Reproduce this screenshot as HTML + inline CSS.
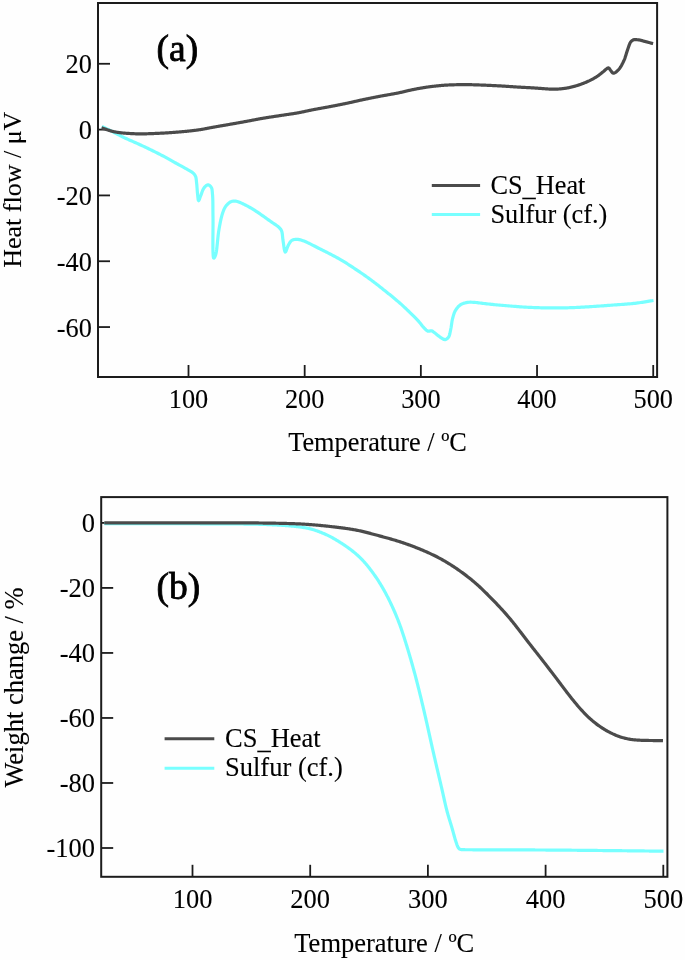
<!DOCTYPE html>
<html><head><meta charset="utf-8"><style>
html,body{margin:0;padding:0;background:#fefefe;}
svg{display:block;will-change:transform;}
text{font-family:"Liberation Serif", serif;fill:#000;stroke:#000;stroke-width:0.1px;}
</style></head><body>
<svg width="685" height="960" viewBox="0 0 685 960">
<rect width="685" height="960" fill="#fefefe"/>
<rect x="98" y="3" width="559.10" height="374.00" fill="none" stroke="#1c1c1c" stroke-width="2"/>
<line x1="188.50" y1="377" x2="188.50" y2="365.00" stroke="#1c1c1c" stroke-width="1.8"/>
<text x="188.50" y="407.7" text-anchor="middle" font-size="26.3">100</text>
<line x1="304.68" y1="377" x2="304.68" y2="365.00" stroke="#1c1c1c" stroke-width="1.8"/>
<text x="304.68" y="407.7" text-anchor="middle" font-size="26.3">200</text>
<line x1="420.86" y1="377" x2="420.86" y2="365.00" stroke="#1c1c1c" stroke-width="1.8"/>
<text x="420.86" y="407.7" text-anchor="middle" font-size="26.3">300</text>
<line x1="537.04" y1="377" x2="537.04" y2="365.00" stroke="#1c1c1c" stroke-width="1.8"/>
<text x="537.04" y="407.7" text-anchor="middle" font-size="26.3">400</text>
<line x1="653.22" y1="377" x2="653.22" y2="365.00" stroke="#1c1c1c" stroke-width="1.8"/>
<text x="653.22" y="407.7" text-anchor="middle" font-size="26.3">500</text>
<line x1="98" y1="63.78" x2="110.00" y2="63.78" stroke="#1c1c1c" stroke-width="1.8"/>
<text x="91.9" y="73.28" text-anchor="end" font-size="26.3">20</text>
<line x1="98" y1="129.60" x2="110.00" y2="129.60" stroke="#1c1c1c" stroke-width="1.8"/>
<text x="91.9" y="139.10" text-anchor="end" font-size="26.3">0</text>
<line x1="98" y1="195.42" x2="110.00" y2="195.42" stroke="#1c1c1c" stroke-width="1.8"/>
<text x="91.9" y="204.92" text-anchor="end" font-size="26.3">-20</text>
<line x1="98" y1="261.24" x2="110.00" y2="261.24" stroke="#1c1c1c" stroke-width="1.8"/>
<text x="91.9" y="270.74" text-anchor="end" font-size="26.3">-40</text>
<line x1="98" y1="327.06" x2="110.00" y2="327.06" stroke="#1c1c1c" stroke-width="1.8"/>
<text x="91.9" y="336.56" text-anchor="end" font-size="26.3">-60</text>
<text x="377.55" y="451.4" text-anchor="middle" font-size="26.3">Temperature / ºC</text>
<text transform="translate(21.2,189.7) rotate(-90)" x="0" y="0" text-anchor="middle" font-size="26.0">Heat flow / μV</text>
<text x="156.6" y="61.3" font-size="37.5" style="stroke-width:0.8px">(a)</text>
<line x1="431.8" y1="185.5" x2="480.1" y2="185.5" stroke="#4b4b4b" stroke-width="3"/>
<line x1="431.8" y1="214.6" x2="480.1" y2="214.6" stroke="#78ffff" stroke-width="3"/>
<text x="490.4" y="193.6" font-size="26.3">CS<tspan dy="2.2">_</tspan><tspan dy="-2.2">Heat</tspan></text>
<text x="490.4" y="222.6" font-size="26.3">Sulfur (cf.)</text>
<path d="M101.90,126.50 L102.92,127.00 L103.94,127.50 L104.96,128.00 L106.00,128.50 L107.08,129.00 L108.17,129.50 L109.29,130.02 L110.50,130.60 L111.63,131.18 L112.82,131.82 L114.06,132.50 L115.35,133.20 L116.66,133.91 L118.00,134.60 L119.17,135.19 L120.37,135.78 L121.59,136.38 L122.84,136.98 L124.11,137.58 L125.39,138.19 L126.69,138.79 L128.00,139.40 L129.27,139.97 L130.53,140.54 L131.80,141.09 L133.09,141.65 L134.40,142.21 L135.74,142.79 L137.11,143.39 L138.53,144.03 L140.00,144.70 L141.19,145.25 L142.42,145.83 L143.69,146.42 L144.98,147.03 L146.31,147.66 L147.66,148.30 L149.02,148.95 L150.40,149.61 L151.78,150.29 L153.17,150.96 L154.56,151.65 L155.94,152.34 L157.31,153.02 L158.66,153.71 L160.00,154.40 L161.27,155.06 L162.58,155.75 L163.90,156.46 L165.24,157.19 L166.59,157.92 L167.94,158.67 L169.28,159.41 L170.61,160.15 L171.92,160.88 L173.21,161.60 L174.46,162.31 L175.67,162.99 L176.84,163.64 L177.96,164.26 L179.01,164.85 L180.00,165.40 L181.49,166.22 L182.86,166.97 L184.13,167.66 L185.32,168.32 L186.47,168.96 L187.60,169.60 L188.97,170.35 L190.28,171.06 L191.51,171.78 L192.60,172.60 L193.47,173.40 L194.25,174.24 L194.94,175.16 L195.50,176.20 L195.89,177.35 L196.14,178.61 L196.31,179.96 L196.44,181.40 L196.60,182.90 L196.75,184.21 L196.88,185.64 L196.99,187.14 L197.11,188.67 L197.22,190.20 L197.33,191.70 L197.46,193.11 L197.60,194.40 L197.77,195.98 L197.92,197.64 L198.10,199.15 L198.31,200.25 L198.60,200.70 L199.01,200.24 L199.50,199.04 L200.03,197.50 L200.60,196.00 L201.04,194.88 L201.49,193.62 L201.96,192.29 L202.46,190.96 L202.99,189.69 L203.57,188.55 L204.20,187.60 L205.11,186.57 L206.11,185.66 L207.13,185.03 L208.10,184.80 L209.27,185.21 L210.39,186.17 L211.30,187.40 L211.77,188.47 L212.06,189.71 L212.23,191.11 L212.36,192.67 L212.50,194.40 L212.59,195.45 L212.66,196.58 L212.72,197.78 L212.77,199.04 L212.81,200.35 L212.84,201.73 L212.86,203.15 L212.88,204.61 L212.89,206.11 L212.90,207.65 L212.91,209.21 L212.92,210.80 L212.93,212.41 L212.95,214.03 L212.97,215.66 L213.00,217.30 L213.02,218.61 L213.03,220.05 L213.04,221.59 L213.04,223.22 L213.03,224.93 L213.02,226.72 L213.00,228.56 L212.98,230.44 L212.97,232.36 L212.95,234.29 L212.93,236.23 L212.91,238.17 L212.90,240.09 L212.89,241.98 L212.89,243.82 L212.89,245.61 L212.90,247.33 L212.92,248.97 L212.94,250.52 L212.98,251.96 L213.03,253.28 L213.10,254.47 L213.17,255.52 L213.26,256.42 L213.37,257.15 L213.50,257.70 L213.64,258.05 L213.80,258.20 L214.36,257.79 L215.00,256.59 L215.60,255.00 L215.85,254.15 L216.08,253.13 L216.29,251.96 L216.49,250.65 L216.69,249.24 L216.87,247.73 L217.05,246.14 L217.22,244.50 L217.39,242.81 L217.56,241.10 L217.73,239.38 L217.91,237.68 L218.09,236.01 L218.28,234.39 L218.47,232.83 L218.68,231.37 L218.90,230.00 L219.16,228.50 L219.42,227.02 L219.69,225.54 L219.96,224.09 L220.23,222.67 L220.51,221.27 L220.80,219.91 L221.09,218.59 L221.40,217.31 L221.72,216.09 L222.05,214.91 L222.40,213.80 L222.89,212.31 L223.39,210.93 L223.90,209.63 L224.46,208.41 L225.08,207.27 L225.80,206.20 L226.70,205.09 L227.70,204.03 L228.77,203.09 L229.88,202.29 L231.00,201.70 L232.21,201.29 L233.46,201.09 L234.75,201.07 L236.10,201.20 L237.36,201.48 L238.70,201.93 L240.09,202.51 L241.48,203.15 L242.83,203.80 L244.10,204.40 L245.34,204.99 L246.51,205.58 L247.65,206.18 L248.80,206.82 L250.00,207.50 L251.19,208.20 L252.39,208.92 L253.61,209.68 L254.86,210.47 L256.15,211.31 L257.50,212.20 L258.58,212.92 L259.70,213.69 L260.86,214.49 L262.05,215.32 L263.25,216.16 L264.47,217.02 L265.68,217.89 L266.88,218.74 L268.05,219.58 L269.20,220.40 L270.41,221.25 L271.67,222.11 L272.95,222.97 L274.22,223.83 L275.46,224.68 L276.62,225.51 L277.69,226.31 L278.62,227.08 L279.40,227.80 L280.35,228.80 L281.03,229.72 L281.60,230.90 L281.95,232.02 L282.20,233.34 L282.40,234.81 L282.55,236.38 L282.70,237.98 L282.88,239.57 L283.10,241.10 L283.33,242.59 L283.57,244.30 L283.81,246.09 L284.06,247.85 L284.33,249.45 L284.62,250.75 L284.94,251.65 L285.30,252.00 L285.80,251.55 L286.34,250.32 L286.92,248.67 L287.54,246.95 L288.20,245.50 L288.83,244.35 L289.48,243.20 L290.17,242.10 L290.93,241.14 L291.80,240.40 L292.94,239.83 L294.21,239.50 L295.55,239.34 L296.90,239.30 L298.04,239.37 L299.17,239.55 L300.34,239.83 L301.60,240.22 L303.00,240.70 L304.04,241.09 L305.16,241.55 L306.34,242.07 L307.59,242.64 L308.89,243.26 L310.23,243.92 L311.60,244.61 L313.00,245.32 L314.41,246.04 L315.83,246.77 L317.23,247.50 L318.63,248.21 L320.00,248.90 L321.22,249.51 L322.45,250.13 L323.71,250.75 L324.97,251.39 L326.25,252.03 L327.54,252.68 L328.82,253.33 L330.11,253.99 L331.40,254.65 L332.68,255.31 L333.94,255.98 L335.20,256.64 L336.43,257.31 L337.65,257.97 L338.84,258.64 L340.00,259.30 L341.34,260.08 L342.65,260.86 L343.94,261.64 L345.20,262.42 L346.44,263.20 L347.67,263.99 L348.90,264.78 L350.11,265.57 L351.32,266.37 L352.54,267.17 L353.77,267.98 L355.00,268.80 L356.16,269.57 L357.32,270.35 L358.48,271.13 L359.64,271.91 L360.80,272.70 L361.95,273.49 L363.11,274.29 L364.26,275.09 L365.41,275.90 L366.56,276.72 L367.71,277.54 L368.86,278.37 L370.00,279.20 L371.16,280.06 L372.33,280.92 L373.49,281.79 L374.64,282.67 L375.80,283.56 L376.95,284.45 L378.11,285.35 L379.26,286.25 L380.41,287.15 L381.56,288.06 L382.71,288.97 L383.85,289.88 L385.00,290.80 L386.17,291.74 L387.35,292.68 L388.54,293.64 L389.74,294.61 L390.94,295.58 L392.13,296.55 L393.31,297.53 L394.48,298.50 L395.64,299.46 L396.77,300.41 L397.88,301.36 L398.96,302.29 L400.00,303.20 L401.10,304.18 L402.17,305.15 L403.21,306.11 L404.23,307.06 L405.23,308.00 L406.20,308.93 L407.17,309.85 L408.12,310.77 L409.06,311.69 L410.00,312.60 L411.06,313.62 L412.11,314.64 L413.14,315.64 L414.16,316.64 L415.15,317.63 L416.13,318.62 L417.08,319.61 L418.00,320.60 L418.93,321.66 L419.83,322.75 L420.70,323.85 L421.55,324.93 L422.38,325.97 L423.19,326.93 L424.00,327.80 L425.02,328.87 L426.01,329.87 L426.99,330.69 L428.00,331.20 L429.16,331.19 L430.35,330.86 L431.50,330.80 L432.66,331.32 L433.79,332.16 L435.00,333.10 L436.10,333.93 L437.29,334.89 L438.53,335.88 L439.75,336.81 L440.90,337.60 L441.97,338.30 L443.01,338.97 L444.02,339.45 L445.00,339.60 L446.26,339.22 L447.46,338.37 L448.50,337.20 L449.07,336.17 L449.52,334.93 L449.89,333.52 L450.20,332.02 L450.49,330.50 L450.80,329.00 L451.05,327.74 L451.27,326.44 L451.47,325.10 L451.66,323.74 L451.85,322.38 L452.06,321.05 L452.31,319.75 L452.60,318.50 L452.98,317.05 L453.38,315.63 L453.81,314.24 L454.29,312.90 L454.85,311.62 L455.50,310.40 L456.21,309.28 L456.98,308.20 L457.82,307.16 L458.73,306.20 L459.69,305.34 L460.70,304.60 L461.97,303.91 L463.35,303.37 L464.80,302.96 L466.26,302.64 L467.70,302.40 L469.11,302.25 L470.54,302.21 L471.96,302.25 L473.36,302.32 L474.70,302.40 L476.04,302.51 L477.29,302.65 L478.58,302.82 L480.00,303.00 L481.23,303.15 L482.53,303.31 L483.88,303.48 L485.31,303.66 L486.80,303.84 L488.36,304.02 L490.00,304.20 L491.22,304.33 L492.50,304.45 L493.83,304.58 L495.21,304.72 L496.63,304.85 L498.09,304.98 L499.57,305.12 L501.07,305.25 L502.57,305.38 L504.08,305.51 L505.59,305.64 L507.08,305.76 L508.55,305.88 L510.00,306.00 L511.43,306.11 L512.86,306.23 L514.28,306.34 L515.71,306.46 L517.14,306.57 L518.57,306.68 L520.00,306.78 L521.43,306.88 L522.85,306.98 L524.28,307.08 L525.71,307.17 L527.14,307.25 L528.57,307.33 L530.00,307.40 L531.43,307.47 L532.86,307.52 L534.28,307.58 L535.71,307.63 L537.14,307.67 L538.57,307.71 L540.00,307.75 L541.43,307.78 L542.86,307.81 L544.28,307.83 L545.71,307.86 L547.14,307.87 L548.57,307.89 L550.00,307.90 L551.43,307.91 L552.86,307.92 L554.29,307.92 L555.71,307.92 L557.14,307.91 L558.57,307.91 L560.00,307.89 L561.43,307.88 L562.86,307.86 L564.29,307.84 L565.72,307.81 L567.14,307.78 L568.57,307.74 L570.00,307.70 L571.42,307.65 L572.84,307.60 L574.25,307.55 L575.65,307.49 L577.05,307.43 L578.46,307.36 L579.86,307.29 L581.27,307.21 L582.69,307.13 L584.12,307.05 L585.57,306.97 L587.03,306.88 L588.50,306.79 L590.00,306.70 L591.40,306.61 L592.83,306.52 L594.28,306.43 L595.75,306.33 L597.24,306.22 L598.73,306.12 L600.24,306.01 L601.75,305.90 L603.26,305.79 L604.77,305.68 L606.27,305.56 L607.77,305.45 L609.25,305.34 L610.72,305.23 L612.17,305.12 L613.60,305.01 L615.00,304.90 L616.50,304.79 L617.98,304.68 L619.45,304.58 L620.90,304.48 L622.34,304.38 L623.77,304.28 L625.19,304.18 L626.61,304.08 L628.01,303.97 L629.41,303.85 L630.81,303.73 L632.21,303.60 L633.60,303.45 L635.00,303.30 L636.45,303.13 L637.89,302.94 L639.32,302.74 L640.75,302.53 L642.17,302.31 L643.59,302.09 L645.01,301.86 L646.42,301.63 L647.83,301.40 L649.25,301.17 L650.66,300.94 L652.08,300.72 L653.50,300.50" fill="none" stroke="#78ffff" stroke-width="3.2" stroke-linejoin="round" stroke-linecap="butt"/>
<path d="M101.60,127.91 L102.10,128.04 L102.60,128.17 L103.10,128.33 L103.60,128.49 L104.10,128.66 L104.60,128.83 L105.10,129.01 L105.60,129.19 L106.10,129.37 L106.60,129.55 L107.10,129.73 L107.60,129.90 L108.10,130.07 L108.60,130.24 L109.10,130.40 L109.60,130.55 L110.10,130.70 L110.60,130.84 L111.10,130.98 L111.60,131.12 L112.10,131.24 L112.60,131.37 L113.10,131.49 L113.60,131.60 L114.10,131.71 L114.60,131.82 L115.10,131.92 L115.60,132.02 L116.10,132.11 L116.60,132.20 L117.10,132.28 L117.60,132.36 L118.10,132.44 L118.60,132.51 L119.10,132.58 L119.60,132.64 L120.10,132.70 L120.60,132.76 L121.10,132.82 L121.60,132.87 L122.10,132.92 L122.60,132.97 L123.10,133.02 L123.60,133.06 L124.10,133.10 L124.60,133.14 L125.10,133.18 L125.60,133.22 L126.10,133.26 L126.60,133.29 L127.10,133.33 L127.60,133.36 L128.10,133.39 L128.60,133.42 L129.10,133.46 L129.60,133.49 L130.10,133.51 L130.60,133.54 L131.10,133.57 L131.60,133.60 L132.10,133.62 L132.60,133.65 L133.10,133.67 L133.60,133.70 L134.10,133.72 L134.60,133.74 L135.10,133.76 L135.60,133.78 L136.10,133.79 L136.60,133.81 L137.10,133.82 L137.60,133.84 L138.10,133.85 L138.60,133.85 L139.10,133.86 L139.60,133.86 L140.10,133.87 L140.60,133.87 L141.10,133.87 L141.60,133.87 L142.10,133.86 L142.60,133.86 L143.10,133.85 L143.60,133.85 L144.10,133.84 L144.60,133.83 L145.10,133.82 L145.60,133.81 L146.10,133.80 L146.60,133.78 L147.10,133.77 L147.60,133.76 L148.10,133.74 L148.60,133.72 L149.10,133.71 L149.60,133.69 L150.10,133.67 L150.60,133.65 L151.10,133.63 L151.60,133.61 L152.10,133.59 L152.60,133.57 L153.10,133.55 L153.60,133.53 L154.10,133.51 L154.60,133.49 L155.10,133.47 L155.60,133.45 L156.10,133.42 L156.60,133.40 L157.10,133.38 L157.60,133.36 L158.10,133.33 L158.60,133.31 L159.10,133.29 L159.60,133.26 L160.10,133.24 L160.60,133.22 L161.10,133.19 L161.60,133.17 L162.10,133.14 L162.60,133.11 L163.10,133.09 L163.60,133.06 L164.10,133.03 L164.60,133.01 L165.10,132.98 L165.60,132.95 L166.10,132.92 L166.60,132.89 L167.10,132.86 L167.60,132.82 L168.10,132.79 L168.60,132.76 L169.10,132.73 L169.60,132.69 L170.10,132.66 L170.60,132.62 L171.10,132.59 L171.60,132.55 L172.10,132.52 L172.60,132.48 L173.10,132.44 L173.60,132.41 L174.10,132.37 L174.60,132.33 L175.10,132.29 L175.60,132.25 L176.10,132.21 L176.60,132.17 L177.10,132.13 L177.60,132.09 L178.10,132.05 L178.60,132.01 L179.10,131.97 L179.60,131.93 L180.10,131.88 L180.60,131.84 L181.10,131.80 L181.60,131.75 L182.10,131.71 L182.60,131.67 L183.10,131.62 L183.60,131.58 L184.10,131.53 L184.60,131.48 L185.10,131.44 L185.60,131.39 L186.10,131.34 L186.60,131.29 L187.10,131.24 L187.60,131.19 L188.10,131.14 L188.60,131.09 L189.10,131.03 L189.60,130.98 L190.10,130.93 L190.60,130.87 L191.10,130.81 L191.60,130.76 L192.10,130.70 L192.60,130.64 L193.10,130.58 L193.60,130.52 L194.10,130.46 L194.60,130.40 L195.10,130.34 L195.60,130.28 L196.10,130.21 L196.60,130.15 L197.10,130.08 L197.60,130.01 L198.10,129.94 L198.60,129.87 L199.10,129.79 L199.60,129.72 L200.10,129.64 L200.60,129.56 L201.10,129.48 L201.60,129.40 L202.10,129.31 L202.60,129.23 L203.10,129.14 L203.60,129.04 L204.10,128.95 L204.60,128.86 L205.10,128.76 L205.60,128.67 L206.10,128.57 L206.60,128.47 L207.10,128.38 L207.60,128.28 L208.10,128.18 L208.60,128.09 L209.10,127.99 L209.60,127.89 L210.10,127.80 L210.60,127.71 L211.10,127.61 L211.60,127.52 L212.10,127.43 L212.60,127.34 L213.10,127.25 L213.60,127.16 L214.10,127.07 L214.60,126.98 L215.10,126.89 L215.60,126.80 L216.10,126.72 L216.60,126.63 L217.10,126.54 L217.60,126.45 L218.10,126.37 L218.60,126.28 L219.10,126.19 L219.60,126.11 L220.10,126.02 L220.60,125.93 L221.10,125.85 L221.60,125.76 L222.10,125.67 L222.60,125.59 L223.10,125.50 L223.60,125.41 L224.10,125.33 L224.60,125.24 L225.10,125.15 L225.60,125.07 L226.10,124.98 L226.60,124.89 L227.10,124.81 L227.60,124.72 L228.10,124.63 L228.60,124.54 L229.10,124.46 L229.60,124.37 L230.10,124.28 L230.60,124.19 L231.10,124.10 L231.60,124.02 L232.10,123.93 L232.60,123.84 L233.10,123.75 L233.60,123.66 L234.10,123.57 L234.60,123.48 L235.10,123.40 L235.60,123.31 L236.10,123.22 L236.60,123.13 L237.10,123.04 L237.60,122.95 L238.10,122.86 L238.60,122.77 L239.10,122.68 L239.60,122.60 L240.10,122.51 L240.60,122.42 L241.10,122.33 L241.60,122.24 L242.10,122.15 L242.60,122.06 L243.10,121.97 L243.60,121.88 L244.10,121.78 L244.60,121.69 L245.10,121.60 L245.60,121.51 L246.10,121.42 L246.60,121.33 L247.10,121.23 L247.60,121.14 L248.10,121.05 L248.60,120.95 L249.10,120.86 L249.60,120.76 L250.10,120.67 L250.60,120.57 L251.10,120.48 L251.60,120.38 L252.10,120.28 L252.60,120.19 L253.10,120.09 L253.60,119.99 L254.10,119.89 L254.60,119.79 L255.10,119.70 L255.60,119.60 L256.10,119.50 L256.60,119.41 L257.10,119.31 L257.60,119.21 L258.10,119.12 L258.60,119.03 L259.10,118.94 L259.60,118.84 L260.10,118.75 L260.60,118.66 L261.10,118.58 L261.60,118.49 L262.10,118.40 L262.60,118.32 L263.10,118.23 L263.60,118.15 L264.10,118.07 L264.60,117.98 L265.10,117.90 L265.60,117.82 L266.10,117.74 L266.60,117.66 L267.10,117.58 L267.60,117.50 L268.10,117.42 L268.60,117.35 L269.10,117.27 L269.60,117.19 L270.10,117.11 L270.60,117.04 L271.10,116.96 L271.60,116.88 L272.10,116.81 L272.60,116.73 L273.10,116.65 L273.60,116.58 L274.10,116.50 L274.60,116.43 L275.10,116.35 L275.60,116.27 L276.10,116.20 L276.60,116.12 L277.10,116.05 L277.60,115.97 L278.10,115.89 L278.60,115.82 L279.10,115.74 L279.60,115.66 L280.10,115.59 L280.60,115.51 L281.10,115.44 L281.60,115.36 L282.10,115.29 L282.60,115.21 L283.10,115.14 L283.60,115.06 L284.10,114.99 L284.60,114.91 L285.10,114.84 L285.60,114.77 L286.10,114.69 L286.60,114.62 L287.10,114.54 L287.60,114.47 L288.10,114.40 L288.60,114.32 L289.10,114.25 L289.60,114.18 L290.10,114.10 L290.60,114.03 L291.10,113.95 L291.60,113.88 L292.10,113.80 L292.60,113.72 L293.10,113.64 L293.60,113.57 L294.10,113.49 L294.60,113.41 L295.10,113.33 L295.60,113.24 L296.10,113.16 L296.60,113.08 L297.10,112.99 L297.60,112.90 L298.10,112.81 L298.60,112.72 L299.10,112.63 L299.60,112.54 L300.10,112.44 L300.60,112.34 L301.10,112.24 L301.60,112.14 L302.10,112.04 L302.60,111.93 L303.10,111.83 L303.60,111.72 L304.10,111.61 L304.60,111.50 L305.10,111.39 L305.60,111.28 L306.10,111.17 L306.60,111.06 L307.10,110.95 L307.60,110.84 L308.10,110.73 L308.60,110.62 L309.10,110.52 L309.60,110.41 L310.10,110.31 L310.60,110.20 L311.10,110.10 L311.60,110.00 L312.10,109.90 L312.60,109.80 L313.10,109.71 L313.60,109.61 L314.10,109.51 L314.60,109.42 L315.10,109.32 L315.60,109.23 L316.10,109.14 L316.60,109.04 L317.10,108.95 L317.60,108.86 L318.10,108.77 L318.60,108.68 L319.10,108.59 L319.60,108.50 L320.10,108.41 L320.60,108.32 L321.10,108.23 L321.60,108.14 L322.10,108.05 L322.60,107.96 L323.10,107.87 L323.60,107.78 L324.10,107.69 L324.60,107.60 L325.10,107.50 L325.60,107.41 L326.10,107.32 L326.60,107.23 L327.10,107.14 L327.60,107.04 L328.10,106.95 L328.60,106.86 L329.10,106.76 L329.60,106.67 L330.10,106.57 L330.60,106.48 L331.10,106.38 L331.60,106.29 L332.10,106.19 L332.60,106.10 L333.10,106.00 L333.60,105.90 L334.10,105.81 L334.60,105.71 L335.10,105.61 L335.60,105.52 L336.10,105.42 L336.60,105.32 L337.10,105.22 L337.60,105.13 L338.10,105.03 L338.60,104.93 L339.10,104.83 L339.60,104.73 L340.10,104.63 L340.60,104.53 L341.10,104.43 L341.60,104.33 L342.10,104.23 L342.60,104.13 L343.10,104.03 L343.60,103.93 L344.10,103.83 L344.60,103.73 L345.10,103.62 L345.60,103.52 L346.10,103.42 L346.60,103.31 L347.10,103.21 L347.60,103.10 L348.10,102.99 L348.60,102.89 L349.10,102.78 L349.60,102.67 L350.10,102.56 L350.60,102.45 L351.10,102.34 L351.60,102.23 L352.10,102.11 L352.60,102.00 L353.10,101.89 L353.60,101.77 L354.10,101.66 L354.60,101.54 L355.10,101.43 L355.60,101.31 L356.10,101.20 L356.60,101.08 L357.10,100.97 L357.60,100.85 L358.10,100.74 L358.60,100.63 L359.10,100.52 L359.60,100.40 L360.10,100.29 L360.60,100.18 L361.10,100.08 L361.60,99.97 L362.10,99.86 L362.60,99.75 L363.10,99.64 L363.60,99.54 L364.10,99.43 L364.60,99.33 L365.10,99.22 L365.60,99.12 L366.10,99.02 L366.60,98.91 L367.10,98.81 L367.60,98.71 L368.10,98.60 L368.60,98.50 L369.10,98.40 L369.60,98.30 L370.10,98.20 L370.60,98.10 L371.10,98.00 L371.60,97.90 L372.10,97.80 L372.60,97.70 L373.10,97.60 L373.60,97.50 L374.10,97.40 L374.60,97.30 L375.10,97.20 L375.60,97.11 L376.10,97.01 L376.60,96.91 L377.10,96.81 L377.60,96.72 L378.10,96.62 L378.60,96.53 L379.10,96.43 L379.60,96.34 L380.10,96.24 L380.60,96.15 L381.10,96.05 L381.60,95.96 L382.10,95.87 L382.60,95.78 L383.10,95.69 L383.60,95.60 L384.10,95.51 L384.60,95.42 L385.10,95.33 L385.60,95.24 L386.10,95.15 L386.60,95.06 L387.10,94.97 L387.60,94.89 L388.10,94.80 L388.60,94.71 L389.10,94.62 L389.60,94.54 L390.10,94.45 L390.60,94.36 L391.10,94.27 L391.60,94.18 L392.10,94.10 L392.60,94.01 L393.10,93.92 L393.60,93.82 L394.10,93.73 L394.60,93.64 L395.10,93.55 L395.60,93.45 L396.10,93.36 L396.60,93.26 L397.10,93.16 L397.60,93.06 L398.10,92.96 L398.60,92.86 L399.10,92.75 L399.60,92.65 L400.10,92.54 L400.60,92.43 L401.10,92.32 L401.60,92.20 L402.10,92.09 L402.60,91.97 L403.10,91.85 L403.60,91.73 L404.10,91.61 L404.60,91.49 L405.10,91.37 L405.60,91.25 L406.10,91.13 L406.60,91.01 L407.10,90.89 L407.60,90.78 L408.10,90.66 L408.60,90.55 L409.10,90.43 L409.60,90.32 L410.10,90.21 L410.60,90.10 L411.10,90.00 L411.60,89.89 L412.10,89.78 L412.60,89.68 L413.10,89.58 L413.60,89.48 L414.10,89.38 L414.60,89.28 L415.10,89.18 L415.60,89.08 L416.10,88.98 L416.60,88.89 L417.10,88.79 L417.60,88.69 L418.10,88.60 L418.60,88.51 L419.10,88.42 L419.60,88.32 L420.10,88.23 L420.60,88.14 L421.10,88.06 L421.60,87.97 L422.10,87.88 L422.60,87.80 L423.10,87.72 L423.60,87.64 L424.10,87.56 L424.60,87.48 L425.10,87.40 L425.60,87.32 L426.10,87.25 L426.60,87.18 L427.10,87.11 L427.60,87.04 L428.10,86.97 L428.60,86.90 L429.10,86.83 L429.60,86.77 L430.10,86.71 L430.60,86.64 L431.10,86.58 L431.60,86.52 L432.10,86.46 L432.60,86.40 L433.10,86.34 L433.60,86.28 L434.10,86.23 L434.60,86.17 L435.10,86.11 L435.60,86.06 L436.10,86.00 L436.60,85.95 L437.10,85.89 L437.60,85.84 L438.10,85.79 L438.60,85.74 L439.10,85.69 L439.60,85.64 L440.10,85.59 L440.60,85.55 L441.10,85.50 L441.60,85.46 L442.10,85.41 L442.60,85.37 L443.10,85.33 L443.60,85.29 L444.10,85.25 L444.60,85.22 L445.10,85.18 L445.60,85.15 L446.10,85.12 L446.60,85.09 L447.10,85.06 L447.60,85.03 L448.10,85.01 L448.60,84.98 L449.10,84.96 L449.60,84.94 L450.10,84.92 L450.60,84.90 L451.10,84.88 L451.60,84.86 L452.10,84.84 L452.60,84.83 L453.10,84.81 L453.60,84.80 L454.10,84.78 L454.60,84.77 L455.10,84.76 L455.60,84.74 L456.10,84.73 L456.60,84.72 L457.10,84.71 L457.60,84.70 L458.10,84.69 L458.60,84.68 L459.10,84.67 L459.60,84.66 L460.10,84.65 L460.60,84.65 L461.10,84.64 L461.60,84.63 L462.10,84.63 L462.60,84.63 L463.10,84.62 L463.60,84.62 L464.10,84.62 L464.60,84.62 L465.10,84.62 L465.60,84.62 L466.10,84.62 L466.60,84.63 L467.10,84.63 L467.60,84.64 L468.10,84.65 L468.60,84.66 L469.10,84.66 L469.60,84.67 L470.10,84.68 L470.60,84.70 L471.10,84.71 L471.60,84.72 L472.10,84.74 L472.60,84.75 L473.10,84.77 L473.60,84.78 L474.10,84.80 L474.60,84.81 L475.10,84.83 L475.60,84.85 L476.10,84.86 L476.60,84.88 L477.10,84.90 L477.60,84.92 L478.10,84.93 L478.60,84.95 L479.10,84.97 L479.60,84.99 L480.10,85.00 L480.60,85.02 L481.10,85.04 L481.60,85.06 L482.10,85.08 L482.60,85.10 L483.10,85.12 L483.60,85.13 L484.10,85.15 L484.60,85.17 L485.10,85.19 L485.60,85.21 L486.10,85.23 L486.60,85.26 L487.10,85.28 L487.60,85.30 L488.10,85.32 L488.60,85.34 L489.10,85.36 L489.60,85.39 L490.10,85.41 L490.60,85.43 L491.10,85.46 L491.60,85.48 L492.10,85.50 L492.60,85.53 L493.10,85.55 L493.60,85.57 L494.10,85.60 L494.60,85.62 L495.10,85.65 L495.60,85.67 L496.10,85.70 L496.60,85.73 L497.10,85.75 L497.60,85.78 L498.10,85.80 L498.60,85.83 L499.10,85.86 L499.60,85.89 L500.10,85.91 L500.60,85.94 L501.10,85.97 L501.60,86.00 L502.10,86.03 L502.60,86.06 L503.10,86.09 L503.60,86.12 L504.10,86.15 L504.60,86.18 L505.10,86.21 L505.60,86.25 L506.10,86.28 L506.60,86.31 L507.10,86.35 L507.60,86.38 L508.10,86.41 L508.60,86.45 L509.10,86.48 L509.60,86.52 L510.10,86.55 L510.60,86.59 L511.10,86.62 L511.60,86.65 L512.10,86.69 L512.60,86.72 L513.10,86.76 L513.60,86.79 L514.10,86.82 L514.60,86.86 L515.10,86.89 L515.60,86.92 L516.10,86.95 L516.60,86.99 L517.10,87.02 L517.60,87.05 L518.10,87.08 L518.60,87.11 L519.10,87.14 L519.60,87.17 L520.10,87.19 L520.60,87.22 L521.10,87.25 L521.60,87.28 L522.10,87.30 L522.60,87.33 L523.10,87.35 L523.60,87.38 L524.10,87.40 L524.60,87.43 L525.10,87.45 L525.60,87.48 L526.10,87.50 L526.60,87.53 L527.10,87.56 L527.60,87.58 L528.10,87.61 L528.60,87.63 L529.10,87.66 L529.60,87.69 L530.10,87.72 L530.60,87.75 L531.10,87.78 L531.60,87.81 L532.10,87.84 L532.60,87.87 L533.10,87.90 L533.60,87.94 L534.10,87.97 L534.60,88.00 L535.10,88.04 L535.60,88.07 L536.10,88.11 L536.60,88.14 L537.10,88.18 L537.60,88.21 L538.10,88.25 L538.60,88.28 L539.10,88.32 L539.60,88.35 L540.10,88.39 L540.60,88.43 L541.10,88.46 L541.60,88.50 L542.10,88.54 L542.60,88.57 L543.10,88.61 L543.60,88.65 L544.10,88.69 L544.60,88.73 L545.10,88.76 L545.60,88.80 L546.10,88.84 L546.60,88.88 L547.10,88.92 L547.60,88.95 L548.10,88.99 L548.60,89.02 L549.10,89.06 L549.60,89.09 L550.10,89.11 L550.60,89.14 L551.10,89.16 L551.60,89.18 L552.10,89.19 L552.60,89.20 L553.10,89.21 L553.60,89.21 L554.10,89.21 L554.60,89.21 L555.10,89.20 L555.60,89.18 L556.10,89.17 L556.60,89.15 L557.10,89.12 L557.60,89.09 L558.10,89.06 L558.60,89.02 L559.10,88.99 L559.60,88.94 L560.10,88.90 L560.60,88.85 L561.10,88.80 L561.60,88.75 L562.10,88.70 L562.60,88.64 L563.10,88.58 L563.60,88.52 L564.10,88.46 L564.60,88.39 L565.10,88.32 L565.60,88.24 L566.10,88.16 L566.60,88.08 L567.10,87.99 L567.60,87.90 L568.10,87.81 L568.60,87.71 L569.10,87.61 L569.60,87.50 L570.10,87.39 L570.60,87.28 L571.10,87.17 L571.60,87.05 L572.10,86.92 L572.60,86.80 L573.10,86.67 L573.60,86.54 L574.10,86.41 L574.60,86.27 L575.10,86.13 L575.60,85.99 L576.10,85.84 L576.60,85.69 L577.10,85.53 L577.60,85.38 L578.10,85.22 L578.60,85.05 L579.10,84.88 L579.60,84.71 L580.10,84.53 L580.60,84.36 L581.10,84.17 L581.60,83.99 L582.10,83.80 L582.60,83.61 L583.10,83.42 L583.60,83.22 L584.10,83.02 L584.60,82.82 L585.10,82.61 L585.60,82.40 L586.10,82.19 L586.60,81.98 L587.10,81.76 L587.60,81.53 L588.10,81.31 L588.60,81.08 L589.10,80.84 L589.60,80.61 L590.10,80.36 L590.60,80.12 L591.10,79.87 L591.60,79.61 L592.10,79.35 L592.60,79.08 L593.10,78.81 L593.60,78.53 L594.10,78.24 L594.60,77.96 L595.10,77.66 L595.60,77.36 L596.10,77.05 L596.60,76.73 L597.10,76.40 L597.60,76.06 L598.10,75.70 L598.60,75.34 L599.10,74.97 L599.60,74.59 L600.10,74.20 L600.60,73.81 L601.10,73.42 L601.60,73.02 L602.10,72.62 L602.60,72.21 L603.10,71.81 L603.60,71.40 L604.10,70.96 L604.60,70.51 L605.10,70.05 L605.60,69.59 L606.10,69.18 L606.60,68.80 L607.09,68.41 L607.60,68.09 L608.10,67.87 L608.60,67.84 L609.12,68.29 L609.60,68.95 L610.10,69.66 L610.60,70.40 L611.10,71.07 L611.60,71.71 L612.08,72.36 L612.60,72.88 L613.09,73.11 L613.60,73.18 L614.10,73.09 L614.60,72.88 L615.11,72.61 L615.60,72.29 L616.10,71.90 L616.60,71.49 L617.10,71.03 L617.60,70.56 L618.10,70.09 L618.60,69.60 L619.11,69.04 L619.60,68.44 L620.11,67.73 L620.60,66.98 L621.11,66.15 L621.60,65.29 L622.10,64.35 L622.60,63.38 L623.10,62.36 L623.60,61.31 L624.11,60.20 L624.60,59.03 L624.94,58.09 L625.27,57.10 L625.60,56.09 L625.94,55.00 L626.27,53.88 L626.60,52.78 L626.93,51.72 L627.26,50.67 L627.60,49.64 L628.10,48.22 L628.60,46.82 L629.09,45.39 L629.60,44.03 L630.07,42.95 L630.60,42.03 L631.09,41.50 L631.60,41.06 L632.09,40.64 L632.60,40.28 L633.09,39.99 L633.60,39.77 L634.10,39.65 L634.60,39.60 L635.10,39.60 L635.60,39.63 L636.10,39.65 L636.60,39.69 L637.10,39.73 L637.60,39.78 L638.10,39.82 L638.60,39.88 L639.10,39.94 L639.60,40.01 L640.10,40.11 L640.60,40.23 L641.10,40.36 L641.60,40.49 L642.10,40.64 L642.60,40.79 L643.10,40.95 L643.60,41.10 L644.10,41.25 L644.60,41.39 L645.10,41.53 L645.60,41.66 L646.10,41.78 L646.60,41.91 L647.10,42.04 L647.60,42.17 L648.10,42.30 L648.60,42.43 L649.10,42.56 L649.60,42.69 L650.10,42.82 L650.60,42.95 L651.10,43.08 L651.60,43.21 L652.12,43.35 L652.60,43.47 L652.86,43.54 L653.10,43.60" fill="none" stroke="#4b4b4b" stroke-width="3.2" stroke-linejoin="round" stroke-linecap="butt"/>
<rect x="101.2" y="497.1" width="566.20" height="379.70" fill="none" stroke="#1c1c1c" stroke-width="2"/>
<line x1="192.50" y1="876.8" x2="192.50" y2="864.80" stroke="#1c1c1c" stroke-width="1.8"/>
<text x="192.50" y="907.8" text-anchor="middle" font-size="26.5">100</text>
<line x1="310.20" y1="876.8" x2="310.20" y2="864.80" stroke="#1c1c1c" stroke-width="1.8"/>
<text x="310.20" y="907.8" text-anchor="middle" font-size="26.5">200</text>
<line x1="427.90" y1="876.8" x2="427.90" y2="864.80" stroke="#1c1c1c" stroke-width="1.8"/>
<text x="427.90" y="907.8" text-anchor="middle" font-size="26.5">300</text>
<line x1="545.60" y1="876.8" x2="545.60" y2="864.80" stroke="#1c1c1c" stroke-width="1.8"/>
<text x="545.60" y="907.8" text-anchor="middle" font-size="26.5">400</text>
<line x1="663.30" y1="876.8" x2="663.30" y2="864.80" stroke="#1c1c1c" stroke-width="1.8"/>
<text x="663.30" y="907.8" text-anchor="middle" font-size="26.5">500</text>
<line x1="101.2" y1="522.90" x2="113.20" y2="522.90" stroke="#1c1c1c" stroke-width="1.8"/>
<text x="95.0" y="531.90" text-anchor="end" font-size="26.5">0</text>
<line x1="101.2" y1="587.92" x2="113.20" y2="587.92" stroke="#1c1c1c" stroke-width="1.8"/>
<text x="95.0" y="596.92" text-anchor="end" font-size="26.5">-20</text>
<line x1="101.2" y1="652.94" x2="113.20" y2="652.94" stroke="#1c1c1c" stroke-width="1.8"/>
<text x="95.0" y="661.94" text-anchor="end" font-size="26.5">-40</text>
<line x1="101.2" y1="717.96" x2="113.20" y2="717.96" stroke="#1c1c1c" stroke-width="1.8"/>
<text x="95.0" y="726.96" text-anchor="end" font-size="26.5">-60</text>
<line x1="101.2" y1="782.98" x2="113.20" y2="782.98" stroke="#1c1c1c" stroke-width="1.8"/>
<text x="95.0" y="791.98" text-anchor="end" font-size="26.5">-80</text>
<line x1="101.2" y1="848.00" x2="113.20" y2="848.00" stroke="#1c1c1c" stroke-width="1.8"/>
<text x="95.0" y="857.00" text-anchor="end" font-size="26.5">-100</text>
<text x="384.30" y="952.2" text-anchor="middle" font-size="26.5">Temperature / ºC</text>
<text transform="translate(23.2,687.5) rotate(-90)" x="0" y="0" text-anchor="middle" font-size="26.5">Weight change / %</text>
<text x="156.6" y="599.2" font-size="37.5" style="stroke-width:0.8px">(b)</text>
<line x1="164.6" y1="738.7" x2="214.3" y2="738.7" stroke="#4b4b4b" stroke-width="3"/>
<line x1="164.6" y1="768.3" x2="214.3" y2="768.3" stroke="#78ffff" stroke-width="3"/>
<text x="225" y="747" font-size="26.5">CS<tspan dy="2.2">_</tspan><tspan dy="-2.2">Heat</tspan></text>
<text x="225" y="776" font-size="26.5">Sulfur (cf.)</text>
<path d="M104.30,523.60 L104.80,523.60 L105.30,523.60 L105.80,523.60 L106.30,523.60 L106.80,523.60 L107.30,523.60 L107.80,523.60 L108.30,523.60 L108.80,523.60 L109.30,523.60 L109.80,523.60 L110.30,523.60 L110.80,523.60 L111.30,523.60 L111.80,523.60 L112.30,523.60 L112.80,523.60 L113.30,523.60 L113.80,523.60 L114.30,523.60 L114.80,523.60 L115.30,523.60 L115.80,523.60 L116.30,523.60 L116.80,523.60 L117.30,523.60 L117.80,523.60 L118.30,523.60 L118.80,523.60 L119.30,523.60 L119.80,523.60 L120.30,523.61 L120.80,523.61 L121.30,523.61 L121.80,523.61 L122.30,523.61 L122.80,523.61 L123.30,523.61 L123.80,523.61 L124.30,523.61 L124.80,523.61 L125.30,523.61 L125.80,523.61 L126.30,523.61 L126.80,523.61 L127.30,523.61 L127.80,523.61 L128.30,523.61 L128.80,523.61 L129.30,523.61 L129.80,523.61 L130.30,523.61 L130.80,523.61 L131.30,523.61 L131.80,523.61 L132.30,523.62 L132.80,523.62 L133.30,523.62 L133.80,523.62 L134.30,523.62 L134.80,523.62 L135.30,523.62 L135.80,523.62 L136.30,523.62 L136.80,523.62 L137.30,523.62 L137.80,523.62 L138.30,523.62 L138.80,523.62 L139.30,523.62 L139.80,523.62 L140.30,523.63 L140.80,523.63 L141.30,523.63 L141.80,523.63 L142.30,523.63 L142.80,523.63 L143.30,523.63 L143.80,523.63 L144.30,523.63 L144.80,523.63 L145.30,523.63 L145.80,523.63 L146.30,523.63 L146.80,523.64 L147.30,523.64 L147.80,523.64 L148.30,523.64 L148.80,523.64 L149.30,523.64 L149.80,523.64 L150.30,523.64 L150.80,523.64 L151.30,523.64 L151.80,523.64 L152.30,523.64 L152.80,523.65 L153.30,523.65 L153.80,523.65 L154.30,523.65 L154.80,523.65 L155.30,523.65 L155.80,523.65 L156.30,523.65 L156.80,523.65 L157.30,523.65 L157.80,523.66 L158.30,523.66 L158.80,523.66 L159.30,523.66 L159.80,523.66 L160.30,523.66 L160.80,523.66 L161.30,523.66 L161.80,523.66 L162.30,523.66 L162.80,523.67 L163.30,523.67 L163.80,523.67 L164.30,523.67 L164.80,523.67 L165.30,523.67 L165.80,523.67 L166.30,523.67 L166.80,523.68 L167.30,523.68 L167.80,523.68 L168.30,523.68 L168.80,523.68 L169.30,523.68 L169.80,523.68 L170.30,523.68 L170.80,523.69 L171.30,523.69 L171.80,523.69 L172.30,523.69 L172.80,523.69 L173.30,523.69 L173.80,523.69 L174.30,523.69 L174.80,523.70 L175.30,523.70 L175.80,523.70 L176.30,523.70 L176.80,523.70 L177.30,523.70 L177.80,523.70 L178.30,523.71 L178.80,523.71 L179.30,523.71 L179.80,523.71 L180.30,523.71 L180.80,523.71 L181.30,523.71 L181.80,523.72 L182.30,523.72 L182.80,523.72 L183.30,523.72 L183.80,523.72 L184.30,523.72 L184.80,523.72 L185.30,523.73 L185.80,523.73 L186.30,523.73 L186.80,523.73 L187.30,523.73 L187.80,523.73 L188.30,523.74 L188.80,523.74 L189.30,523.74 L189.80,523.74 L190.30,523.74 L190.80,523.74 L191.30,523.74 L191.80,523.75 L192.30,523.75 L192.80,523.75 L193.30,523.75 L193.80,523.75 L194.30,523.76 L194.80,523.76 L195.30,523.76 L195.80,523.76 L196.30,523.76 L196.80,523.76 L197.30,523.77 L197.80,523.77 L198.30,523.77 L198.80,523.77 L199.30,523.77 L199.80,523.77 L200.30,523.78 L200.80,523.78 L201.30,523.78 L201.80,523.78 L202.30,523.78 L202.80,523.79 L203.30,523.79 L203.80,523.79 L204.30,523.79 L204.80,523.79 L205.30,523.79 L205.80,523.80 L206.30,523.80 L206.80,523.80 L207.30,523.80 L207.80,523.80 L208.30,523.81 L208.80,523.81 L209.30,523.81 L209.80,523.81 L210.30,523.81 L210.80,523.82 L211.30,523.82 L211.80,523.82 L212.30,523.82 L212.80,523.82 L213.30,523.83 L213.80,523.83 L214.30,523.83 L214.80,523.83 L215.30,523.83 L215.80,523.84 L216.30,523.84 L216.80,523.84 L217.30,523.84 L217.80,523.85 L218.30,523.85 L218.80,523.85 L219.30,523.85 L219.80,523.85 L220.30,523.86 L220.80,523.86 L221.30,523.86 L221.80,523.86 L222.30,523.87 L222.80,523.87 L223.30,523.87 L223.80,523.87 L224.30,523.87 L224.80,523.88 L225.30,523.88 L225.80,523.88 L226.30,523.88 L226.80,523.89 L227.30,523.89 L227.80,523.89 L228.30,523.89 L228.80,523.90 L229.30,523.90 L229.80,523.90 L230.30,523.90 L230.80,523.91 L231.30,523.91 L231.80,523.91 L232.30,523.92 L232.80,523.92 L233.30,523.92 L233.80,523.93 L234.30,523.93 L234.80,523.93 L235.30,523.94 L235.80,523.94 L236.30,523.95 L236.80,523.95 L237.30,523.96 L237.80,523.96 L238.30,523.96 L238.80,523.97 L239.30,523.97 L239.80,523.98 L240.30,523.99 L240.80,523.99 L241.30,524.00 L241.80,524.00 L242.30,524.01 L242.80,524.01 L243.30,524.02 L243.80,524.03 L244.30,524.03 L244.80,524.04 L245.30,524.05 L245.80,524.05 L246.30,524.06 L246.80,524.07 L247.30,524.08 L247.80,524.08 L248.30,524.09 L248.80,524.10 L249.30,524.11 L249.80,524.11 L250.30,524.12 L250.80,524.13 L251.30,524.14 L251.80,524.15 L252.30,524.16 L252.80,524.16 L253.30,524.17 L253.80,524.18 L254.30,524.19 L254.80,524.20 L255.30,524.21 L255.80,524.22 L256.30,524.23 L256.80,524.24 L257.30,524.25 L257.80,524.26 L258.30,524.27 L258.80,524.29 L259.30,524.30 L259.80,524.31 L260.30,524.32 L260.80,524.34 L261.30,524.35 L261.80,524.36 L262.30,524.38 L262.80,524.39 L263.30,524.41 L263.80,524.42 L264.30,524.44 L264.80,524.46 L265.30,524.48 L265.80,524.50 L266.30,524.51 L266.80,524.53 L267.30,524.55 L267.80,524.57 L268.30,524.59 L268.80,524.62 L269.30,524.64 L269.80,524.66 L270.30,524.68 L270.80,524.70 L271.30,524.73 L271.80,524.75 L272.30,524.78 L272.80,524.80 L273.30,524.82 L273.80,524.85 L274.30,524.87 L274.80,524.90 L275.30,524.93 L275.80,524.95 L276.30,524.98 L276.80,525.01 L277.30,525.03 L277.80,525.06 L278.30,525.09 L278.80,525.12 L279.30,525.15 L279.80,525.18 L280.30,525.21 L280.80,525.24 L281.30,525.27 L281.80,525.30 L282.30,525.34 L282.80,525.37 L283.30,525.41 L283.80,525.44 L284.30,525.47 L284.80,525.51 L285.30,525.55 L285.80,525.58 L286.30,525.62 L286.80,525.66 L287.30,525.70 L287.80,525.74 L288.30,525.78 L288.80,525.82 L289.30,525.86 L289.80,525.91 L290.30,525.95 L290.80,525.99 L291.30,526.04 L291.80,526.09 L292.30,526.13 L292.80,526.18 L293.30,526.23 L293.80,526.28 L294.30,526.33 L294.80,526.38 L295.30,526.44 L295.80,526.49 L296.30,526.54 L296.80,526.60 L297.30,526.66 L297.80,526.72 L298.30,526.78 L298.80,526.84 L299.30,526.90 L299.80,526.97 L300.30,527.03 L300.80,527.10 L301.30,527.17 L301.80,527.24 L302.30,527.31 L302.80,527.39 L303.30,527.47 L303.80,527.55 L304.30,527.63 L304.80,527.71 L305.30,527.80 L305.80,527.89 L306.30,527.98 L306.80,528.08 L307.30,528.18 L307.80,528.28 L308.30,528.39 L308.80,528.50 L309.30,528.62 L309.80,528.74 L310.30,528.86 L310.80,528.99 L311.30,529.12 L311.80,529.25 L312.30,529.39 L312.80,529.54 L313.30,529.68 L313.80,529.84 L314.30,529.99 L314.80,530.15 L315.30,530.32 L315.80,530.48 L316.30,530.65 L316.80,530.83 L317.30,531.01 L317.80,531.19 L318.30,531.37 L318.80,531.56 L319.30,531.75 L319.80,531.94 L320.30,532.13 L320.80,532.33 L321.30,532.53 L321.80,532.74 L322.30,532.94 L322.80,533.15 L323.30,533.36 L323.80,533.57 L324.30,533.79 L324.80,534.01 L325.30,534.23 L325.80,534.46 L326.30,534.69 L326.80,534.92 L327.30,535.15 L327.80,535.39 L328.30,535.64 L328.80,535.88 L329.30,536.13 L329.80,536.39 L330.30,536.65 L330.80,536.91 L331.30,537.17 L331.80,537.44 L332.30,537.71 L332.80,537.99 L333.30,538.27 L333.80,538.55 L334.30,538.84 L334.80,539.12 L335.30,539.42 L335.80,539.71 L336.30,540.01 L336.80,540.31 L337.30,540.61 L337.80,540.92 L338.30,541.22 L338.80,541.53 L339.30,541.85 L339.80,542.16 L340.30,542.48 L340.80,542.80 L341.30,543.12 L341.80,543.44 L342.30,543.77 L342.80,544.09 L343.30,544.42 L343.80,544.76 L344.30,545.09 L344.80,545.43 L345.30,545.77 L345.80,546.11 L346.30,546.46 L346.80,546.81 L347.30,547.16 L347.80,547.51 L348.30,547.87 L348.80,548.23 L349.30,548.60 L349.80,548.96 L350.30,549.34 L350.80,549.71 L351.30,550.09 L351.80,550.48 L352.30,550.87 L352.80,551.26 L353.30,551.66 L353.80,552.07 L354.30,552.47 L354.80,552.89 L355.30,553.31 L355.80,553.74 L356.30,554.17 L356.80,554.61 L357.30,555.05 L357.80,555.50 L358.30,555.96 L358.80,556.43 L359.30,556.90 L359.80,557.38 L360.30,557.87 L360.80,558.37 L361.30,558.88 L361.80,559.39 L362.30,559.91 L362.80,560.45 L363.30,560.99 L363.80,561.54 L364.30,562.09 L364.80,562.66 L365.30,563.23 L365.80,563.82 L366.30,564.40 L366.80,565.00 L367.30,565.61 L367.80,566.22 L368.30,566.84 L368.80,567.47 L369.30,568.10 L369.80,568.75 L370.30,569.39 L370.80,570.05 L371.30,570.71 L371.80,571.38 L372.30,572.05 L372.80,572.73 L373.30,573.42 L373.80,574.12 L374.30,574.82 L374.80,575.53 L375.30,576.25 L375.80,576.98 L376.30,577.71 L376.80,578.45 L377.30,579.20 L377.80,579.96 L378.30,580.73 L378.80,581.51 L379.30,582.30 L379.80,583.10 L380.30,583.91 L380.80,584.73 L381.30,585.55 L381.80,586.40 L382.30,587.24 L382.80,588.11 L383.30,588.98 L383.80,589.87 L384.30,590.76 L384.80,591.67 L385.30,592.59 L385.80,593.52 L386.30,594.46 L386.80,595.41 L387.30,596.38 L387.80,597.35 L388.30,598.34 L388.80,599.34 L389.30,600.35 L389.80,601.37 L390.30,602.41 L390.80,603.45 L391.30,604.51 L391.80,605.58 L392.30,606.65 L392.80,607.75 L393.30,608.85 L393.80,609.98 L394.30,611.11 L394.80,612.26 L395.30,613.42 L395.80,614.61 L396.30,615.81 L396.80,617.03 L397.30,618.27 L397.80,619.53 L398.30,620.81 L398.80,622.13 L399.30,623.45 L399.80,624.82 L400.30,626.19 L400.64,627.13 L400.97,628.07 L401.30,629.02 L401.63,629.99 L401.97,630.97 L402.30,631.95 L402.63,632.95 L402.97,633.96 L403.30,634.97 L403.63,635.99 L403.97,637.02 L404.30,638.06 L404.63,639.11 L404.97,640.16 L405.30,641.22 L405.63,642.28 L405.97,643.36 L406.30,644.43 L406.63,645.52 L406.97,646.60 L407.30,647.69 L407.63,648.79 L407.97,649.90 L408.30,651.00 L408.63,652.12 L408.97,653.24 L409.30,654.36 L409.63,655.49 L409.97,656.62 L410.30,657.76 L410.63,658.91 L410.97,660.06 L411.30,661.22 L411.63,662.38 L411.97,663.56 L412.30,664.73 L412.63,665.92 L412.97,667.11 L413.30,668.31 L413.63,669.52 L413.97,670.74 L414.30,671.96 L414.63,673.20 L414.97,674.44 L415.30,675.68 L415.63,676.95 L415.97,678.21 L416.30,679.48 L416.63,680.77 L416.97,682.06 L417.30,683.35 L417.63,684.66 L417.97,685.98 L418.30,687.30 L418.63,688.63 L418.97,689.97 L419.30,691.31 L419.63,692.66 L419.97,694.02 L420.30,695.37 L420.63,696.74 L420.97,698.12 L421.30,699.49 L421.63,700.88 L421.97,702.27 L422.30,703.67 L422.63,705.07 L422.97,706.48 L423.30,707.89 L423.63,709.31 L423.97,710.74 L424.30,712.16 L424.63,713.60 L424.97,715.05 L425.30,716.50 L425.55,717.59 L425.80,718.69 L426.05,719.78 L426.30,720.88 L426.55,721.99 L426.80,723.10 L427.05,724.21 L427.30,725.32 L427.55,726.44 L427.80,727.56 L428.05,728.68 L428.30,729.80 L428.55,730.92 L428.80,732.05 L429.05,733.18 L429.30,734.30 L429.55,735.43 L429.80,736.56 L430.05,737.69 L430.30,738.81 L430.55,739.94 L430.80,741.06 L431.05,742.19 L431.30,743.31 L431.55,744.43 L431.80,745.55 L432.05,746.66 L432.30,747.78 L432.55,748.88 L432.80,749.99 L433.05,751.09 L433.30,752.19 L433.63,753.64 L433.97,755.10 L434.30,756.55 L434.63,758.00 L434.97,759.44 L435.30,760.88 L435.63,762.31 L435.97,763.75 L436.30,765.18 L436.63,766.60 L436.97,768.03 L437.30,769.45 L437.63,770.87 L437.97,772.29 L438.30,773.71 L438.63,775.13 L438.97,776.54 L439.30,777.96 L439.63,779.38 L439.97,780.80 L440.30,782.23 L440.63,783.65 L440.97,785.08 L441.30,786.51 L441.63,787.95 L441.97,789.40 L442.30,790.85 L442.55,791.96 L442.80,793.08 L443.05,794.20 L443.30,795.33 L443.55,796.46 L443.80,797.59 L444.05,798.72 L444.30,799.85 L444.55,800.96 L444.80,802.07 L445.05,803.17 L445.30,804.27 L445.63,805.67 L445.96,807.07 L446.30,808.44 L446.63,809.72 L446.96,810.99 L447.30,812.24 L447.63,813.43 L447.96,814.60 L448.30,815.76 L448.63,816.88 L448.96,817.99 L449.30,819.10 L449.63,820.19 L449.97,821.28 L450.30,822.36 L450.63,823.45 L450.97,824.54 L451.30,825.64 L451.64,826.77 L451.97,827.90 L452.30,829.04 L452.64,830.23 L452.97,831.43 L453.30,832.63 L453.63,833.84 L453.97,835.05 L454.30,836.25 L454.63,837.42 L454.96,838.57 L455.30,839.71 L455.63,840.75 L455.96,841.78 L456.30,842.79 L456.62,843.80 L456.95,844.79 L457.30,845.72 L457.78,846.80 L458.30,847.73 L458.78,848.34 L459.30,848.83 L459.79,849.16 L460.30,849.40 L460.80,849.51 L461.30,849.57 L461.80,849.63 L462.30,849.67 L462.80,849.69 L463.30,849.70 L463.80,849.71 L464.30,849.72 L464.80,849.72 L465.30,849.73 L465.80,849.73 L466.30,849.74 L466.80,849.74 L467.30,849.75 L467.80,849.75 L468.30,849.75 L468.80,849.76 L469.30,849.76 L469.80,849.76 L470.30,849.77 L470.80,849.77 L471.30,849.77 L471.80,849.77 L472.30,849.77 L472.80,849.78 L473.30,849.78 L473.80,849.78 L474.30,849.78 L474.80,849.78 L475.30,849.78 L475.80,849.79 L476.30,849.79 L476.80,849.79 L477.30,849.79 L477.80,849.79 L478.30,849.79 L478.80,849.80 L479.30,849.80 L479.80,849.80 L480.30,849.80 L480.80,849.80 L481.30,849.81 L481.80,849.81 L482.30,849.81 L482.80,849.81 L483.30,849.81 L483.80,849.82 L484.30,849.82 L484.80,849.82 L485.30,849.82 L485.80,849.82 L486.30,849.83 L486.80,849.83 L487.30,849.83 L487.80,849.83 L488.30,849.83 L488.80,849.83 L489.30,849.84 L489.80,849.84 L490.30,849.84 L490.80,849.84 L491.30,849.84 L491.80,849.85 L492.30,849.85 L492.80,849.85 L493.30,849.85 L493.80,849.85 L494.30,849.85 L494.80,849.85 L495.30,849.86 L495.80,849.86 L496.30,849.86 L496.80,849.86 L497.30,849.86 L497.80,849.86 L498.30,849.87 L498.80,849.87 L499.30,849.87 L499.80,849.87 L500.30,849.87 L500.80,849.87 L501.30,849.87 L501.80,849.87 L502.30,849.88 L502.80,849.88 L503.30,849.88 L503.80,849.88 L504.30,849.88 L504.80,849.88 L505.30,849.88 L505.80,849.89 L506.30,849.89 L506.80,849.89 L507.30,849.89 L507.80,849.89 L508.30,849.89 L508.80,849.89 L509.30,849.90 L509.80,849.90 L510.30,849.90 L510.80,849.90 L511.30,849.90 L511.80,849.90 L512.30,849.90 L512.80,849.90 L513.30,849.91 L513.80,849.91 L514.30,849.91 L514.80,849.91 L515.30,849.91 L515.80,849.91 L516.30,849.91 L516.80,849.92 L517.30,849.92 L517.80,849.92 L518.30,849.92 L518.80,849.92 L519.30,849.92 L519.80,849.92 L520.30,849.93 L520.80,849.93 L521.30,849.93 L521.80,849.93 L522.30,849.93 L522.80,849.93 L523.30,849.93 L523.80,849.94 L524.30,849.94 L524.80,849.94 L525.30,849.94 L525.80,849.94 L526.30,849.94 L526.80,849.95 L527.30,849.95 L527.80,849.95 L528.30,849.95 L528.80,849.95 L529.30,849.95 L529.80,849.96 L530.30,849.96 L530.80,849.96 L531.30,849.96 L531.80,849.96 L532.30,849.96 L532.80,849.97 L533.30,849.97 L533.80,849.97 L534.30,849.97 L534.80,849.97 L535.30,849.98 L535.80,849.98 L536.30,849.98 L536.80,849.98 L537.30,849.98 L537.80,849.99 L538.30,849.99 L538.80,849.99 L539.30,849.99 L539.80,850.00 L540.30,850.00 L540.80,850.00 L541.30,850.00 L541.80,850.01 L542.30,850.01 L542.80,850.01 L543.30,850.01 L543.80,850.02 L544.30,850.02 L544.80,850.02 L545.30,850.02 L545.80,850.03 L546.30,850.03 L546.80,850.03 L547.30,850.04 L547.80,850.04 L548.30,850.04 L548.80,850.04 L549.30,850.05 L549.80,850.05 L550.30,850.05 L550.80,850.06 L551.30,850.06 L551.80,850.06 L552.30,850.07 L552.80,850.07 L553.30,850.08 L553.80,850.08 L554.30,850.08 L554.80,850.09 L555.30,850.09 L555.80,850.09 L556.30,850.10 L556.80,850.10 L557.30,850.10 L557.80,850.11 L558.30,850.11 L558.80,850.12 L559.30,850.12 L559.80,850.12 L560.30,850.13 L560.80,850.13 L561.30,850.14 L561.80,850.14 L562.30,850.14 L562.80,850.15 L563.30,850.15 L563.80,850.16 L564.30,850.16 L564.80,850.17 L565.30,850.17 L565.80,850.17 L566.30,850.18 L566.80,850.18 L567.30,850.19 L567.80,850.19 L568.30,850.20 L568.80,850.20 L569.30,850.20 L569.80,850.21 L570.30,850.21 L570.80,850.22 L571.30,850.22 L571.80,850.23 L572.30,850.23 L572.80,850.24 L573.30,850.24 L573.80,850.25 L574.30,850.25 L574.80,850.26 L575.30,850.26 L575.80,850.27 L576.30,850.27 L576.80,850.27 L577.30,850.28 L577.80,850.28 L578.30,850.29 L578.80,850.29 L579.30,850.30 L579.80,850.30 L580.30,850.31 L580.80,850.31 L581.30,850.32 L581.80,850.32 L582.30,850.33 L582.80,850.33 L583.30,850.34 L583.80,850.34 L584.30,850.35 L584.80,850.35 L585.30,850.36 L585.80,850.36 L586.30,850.37 L586.80,850.37 L587.30,850.38 L587.80,850.38 L588.30,850.39 L588.80,850.39 L589.30,850.40 L589.80,850.40 L590.30,850.41 L590.80,850.41 L591.30,850.42 L591.80,850.42 L592.30,850.43 L592.80,850.43 L593.30,850.44 L593.80,850.44 L594.30,850.44 L594.80,850.45 L595.30,850.45 L595.80,850.46 L596.30,850.46 L596.80,850.47 L597.30,850.47 L597.80,850.48 L598.30,850.48 L598.80,850.49 L599.30,850.49 L599.80,850.50 L600.30,850.50 L600.80,850.51 L601.30,850.51 L601.80,850.52 L602.30,850.52 L602.80,850.53 L603.30,850.53 L603.80,850.54 L604.30,850.54 L604.80,850.55 L605.30,850.55 L605.80,850.56 L606.30,850.56 L606.80,850.57 L607.30,850.57 L607.80,850.58 L608.30,850.58 L608.80,850.59 L609.30,850.59 L609.80,850.60 L610.30,850.60 L610.80,850.61 L611.30,850.61 L611.80,850.62 L612.30,850.62 L612.80,850.63 L613.30,850.63 L613.80,850.64 L614.30,850.64 L614.80,850.65 L615.30,850.65 L615.80,850.66 L616.30,850.66 L616.80,850.67 L617.30,850.67 L617.80,850.68 L618.30,850.68 L618.80,850.69 L619.30,850.69 L619.80,850.70 L620.30,850.70 L620.80,850.71 L621.30,850.71 L621.80,850.72 L622.30,850.73 L622.80,850.73 L623.30,850.74 L623.80,850.74 L624.30,850.75 L624.80,850.75 L625.30,850.76 L625.80,850.76 L626.30,850.77 L626.80,850.77 L627.30,850.78 L627.80,850.78 L628.30,850.79 L628.80,850.80 L629.30,850.80 L629.80,850.81 L630.30,850.81 L630.80,850.82 L631.30,850.82 L631.80,850.83 L632.30,850.83 L632.80,850.84 L633.30,850.84 L633.80,850.85 L634.30,850.86 L634.80,850.86 L635.30,850.87 L635.80,850.87 L636.30,850.88 L636.80,850.88 L637.30,850.89 L637.80,850.90 L638.30,850.90 L638.80,850.91 L639.30,850.91 L639.80,850.92 L640.30,850.92 L640.80,850.93 L641.30,850.94 L641.80,850.94 L642.30,850.95 L642.80,850.95 L643.30,850.96 L643.80,850.96 L644.30,850.97 L644.80,850.98 L645.30,850.98 L645.80,850.99 L646.30,850.99 L646.80,851.00 L647.30,851.00 L647.80,851.01 L648.30,851.02 L648.80,851.02 L649.30,851.03 L649.80,851.03 L650.30,851.04 L650.80,851.05 L651.30,851.05 L651.80,851.06 L652.30,851.06 L652.80,851.07 L653.30,851.08 L653.80,851.08 L654.30,851.09 L654.80,851.09 L655.30,851.10 L655.80,851.11 L656.30,851.11 L656.80,851.12 L657.30,851.12 L657.80,851.13 L658.30,851.14 L658.80,851.14 L659.30,851.15 L659.80,851.15 L660.30,851.16 L660.80,851.17 L661.30,851.17 L661.80,851.18 L662.30,851.19 L662.85,851.19 L663.30,851.20 L663.41,851.20 L663.50,851.20" fill="none" stroke="#78ffff" stroke-width="3.2" stroke-linejoin="round" stroke-linecap="butt"/>
<path d="M104.30,522.80 L105.30,522.80 L106.30,522.80 L107.30,522.80 L108.30,522.80 L109.30,522.80 L110.30,522.80 L111.30,522.80 L112.30,522.80 L113.30,522.80 L114.30,522.80 L115.30,522.80 L116.30,522.80 L117.30,522.80 L118.30,522.80 L119.30,522.80 L120.30,522.80 L121.30,522.80 L122.30,522.80 L123.30,522.80 L124.30,522.80 L125.30,522.80 L126.30,522.80 L127.30,522.80 L128.30,522.80 L129.30,522.80 L130.30,522.80 L131.30,522.80 L132.30,522.80 L133.30,522.80 L134.30,522.80 L135.30,522.80 L136.30,522.80 L137.30,522.80 L138.30,522.80 L139.30,522.80 L140.30,522.80 L141.30,522.80 L142.30,522.80 L143.30,522.80 L144.30,522.80 L145.30,522.80 L146.30,522.80 L147.30,522.80 L148.30,522.80 L149.30,522.80 L150.30,522.80 L151.30,522.80 L152.30,522.80 L153.30,522.80 L154.30,522.80 L155.30,522.80 L156.30,522.80 L157.30,522.80 L158.30,522.80 L159.30,522.80 L160.30,522.80 L161.30,522.80 L162.30,522.80 L163.30,522.80 L164.30,522.80 L165.30,522.80 L166.30,522.80 L167.30,522.80 L168.30,522.80 L169.30,522.80 L170.30,522.80 L171.30,522.80 L172.30,522.80 L173.30,522.80 L174.30,522.80 L175.30,522.80 L176.30,522.80 L177.30,522.80 L178.30,522.80 L179.30,522.80 L180.30,522.80 L181.30,522.80 L182.30,522.80 L183.30,522.80 L184.30,522.80 L185.30,522.80 L186.30,522.80 L187.30,522.80 L188.30,522.80 L189.30,522.80 L190.30,522.80 L191.30,522.80 L192.30,522.80 L193.30,522.80 L194.30,522.80 L195.30,522.80 L196.30,522.80 L197.30,522.80 L198.30,522.80 L199.30,522.80 L200.30,522.80 L201.30,522.80 L202.30,522.80 L203.30,522.80 L204.30,522.80 L205.30,522.80 L206.30,522.80 L207.30,522.80 L208.30,522.80 L209.30,522.80 L210.30,522.81 L211.30,522.81 L212.30,522.81 L213.30,522.81 L214.30,522.81 L215.30,522.81 L216.30,522.81 L217.30,522.81 L218.30,522.82 L219.30,522.82 L220.30,522.82 L221.30,522.82 L222.30,522.82 L223.30,522.82 L224.30,522.83 L225.30,522.83 L226.30,522.83 L227.30,522.83 L228.30,522.83 L229.30,522.84 L230.30,522.84 L231.30,522.84 L232.30,522.84 L233.30,522.85 L234.30,522.85 L235.30,522.85 L236.30,522.86 L237.30,522.86 L238.30,522.86 L239.30,522.86 L240.30,522.87 L241.30,522.87 L242.30,522.87 L243.30,522.88 L244.30,522.88 L245.30,522.88 L246.30,522.89 L247.30,522.89 L248.30,522.90 L249.30,522.90 L250.30,522.91 L251.30,522.91 L252.30,522.92 L253.30,522.92 L254.30,522.93 L255.30,522.94 L256.30,522.95 L257.30,522.96 L258.30,522.97 L259.30,522.98 L260.30,522.99 L261.30,523.00 L262.30,523.01 L263.30,523.03 L264.30,523.04 L265.30,523.05 L266.30,523.07 L267.30,523.08 L268.30,523.10 L269.30,523.11 L270.30,523.13 L271.30,523.14 L272.30,523.16 L273.30,523.18 L274.30,523.19 L275.30,523.21 L276.30,523.23 L277.30,523.25 L278.30,523.27 L279.30,523.29 L280.30,523.31 L281.30,523.33 L282.30,523.35 L283.30,523.38 L284.30,523.40 L285.30,523.43 L286.30,523.45 L287.30,523.48 L288.30,523.51 L289.30,523.54 L290.30,523.57 L291.30,523.60 L292.30,523.64 L293.30,523.67 L294.30,523.71 L295.30,523.75 L296.30,523.79 L297.30,523.83 L298.30,523.87 L299.30,523.92 L300.30,523.97 L301.30,524.02 L302.30,524.08 L303.30,524.13 L304.30,524.19 L305.30,524.25 L306.30,524.32 L307.30,524.39 L308.30,524.46 L309.30,524.53 L310.30,524.60 L311.30,524.68 L312.30,524.76 L313.30,524.84 L314.30,524.92 L315.30,525.01 L316.30,525.09 L317.30,525.18 L318.30,525.27 L319.30,525.36 L320.30,525.45 L321.30,525.55 L322.30,525.65 L323.30,525.74 L324.30,525.85 L325.30,525.95 L326.30,526.06 L327.30,526.16 L328.30,526.27 L329.30,526.38 L330.30,526.49 L331.30,526.61 L332.30,526.72 L333.30,526.84 L334.30,526.96 L335.30,527.08 L336.30,527.20 L337.30,527.32 L338.30,527.44 L339.30,527.56 L340.30,527.69 L341.30,527.81 L342.30,527.94 L343.30,528.08 L344.30,528.21 L345.30,528.35 L346.30,528.49 L347.30,528.63 L348.30,528.78 L349.30,528.93 L350.30,529.08 L351.30,529.24 L352.30,529.41 L353.30,529.58 L354.30,529.75 L355.30,529.93 L356.30,530.12 L357.30,530.31 L358.30,530.51 L359.30,530.71 L360.30,530.92 L361.30,531.14 L362.30,531.37 L363.30,531.60 L364.30,531.84 L365.30,532.09 L366.30,532.34 L367.30,532.60 L368.30,532.86 L369.30,533.13 L370.30,533.39 L371.30,533.67 L372.30,533.94 L373.30,534.21 L374.30,534.49 L375.30,534.76 L376.30,535.03 L377.30,535.31 L378.30,535.58 L379.30,535.85 L380.30,536.12 L381.30,536.39 L382.30,536.66 L383.30,536.93 L384.30,537.20 L385.30,537.47 L386.30,537.75 L387.30,538.02 L388.30,538.30 L389.30,538.57 L390.30,538.85 L391.30,539.14 L392.30,539.42 L393.30,539.71 L394.30,540.01 L395.30,540.31 L396.30,540.61 L397.30,540.92 L398.30,541.23 L399.30,541.55 L400.30,541.87 L401.30,542.19 L402.30,542.53 L403.30,542.86 L404.30,543.21 L405.30,543.55 L406.30,543.90 L407.30,544.26 L408.30,544.62 L409.30,544.98 L410.30,545.35 L411.30,545.73 L412.30,546.11 L413.30,546.49 L414.30,546.87 L415.30,547.26 L416.30,547.66 L417.30,548.06 L418.30,548.46 L419.30,548.86 L420.30,549.27 L421.30,549.69 L422.30,550.10 L423.30,550.53 L424.30,550.95 L425.30,551.38 L426.30,551.82 L427.30,552.26 L428.30,552.71 L429.30,553.16 L430.30,553.62 L431.30,554.09 L432.30,554.57 L433.30,555.05 L434.30,555.54 L435.30,556.03 L436.30,556.54 L437.30,557.05 L438.30,557.57 L439.30,558.10 L440.30,558.64 L441.30,559.18 L442.30,559.74 L443.30,560.31 L444.30,560.88 L445.30,561.46 L446.30,562.06 L447.30,562.66 L448.30,563.27 L449.30,563.89 L450.30,564.52 L451.30,565.15 L452.30,565.79 L453.30,566.45 L454.30,567.10 L455.30,567.77 L456.30,568.44 L457.30,569.13 L458.30,569.81 L459.30,570.51 L460.30,571.22 L461.30,571.93 L462.30,572.66 L463.30,573.39 L464.30,574.13 L465.30,574.88 L466.30,575.64 L467.30,576.41 L468.30,577.19 L469.30,577.99 L470.30,578.79 L471.30,579.60 L472.30,580.42 L473.30,581.26 L474.30,582.11 L475.30,582.97 L476.30,583.84 L477.30,584.73 L478.30,585.63 L479.30,586.54 L480.30,587.47 L481.30,588.41 L482.30,589.36 L483.30,590.32 L484.30,591.29 L485.30,592.27 L486.30,593.26 L487.30,594.25 L488.30,595.26 L489.30,596.27 L490.30,597.28 L491.30,598.30 L492.30,599.33 L493.30,600.36 L494.30,601.39 L495.30,602.44 L496.30,603.48 L497.30,604.54 L498.30,605.60 L499.30,606.67 L500.30,607.74 L501.30,608.83 L502.30,609.93 L503.30,611.03 L504.30,612.14 L504.97,612.89 L505.63,613.65 L506.30,614.41 L506.97,615.17 L507.63,615.95 L508.30,616.72 L508.97,617.51 L509.63,618.30 L510.30,619.09 L510.97,619.89 L511.63,620.70 L512.30,621.52 L512.97,622.34 L513.63,623.17 L514.30,624.01 L514.97,624.85 L515.63,625.69 L516.30,626.54 L516.97,627.40 L517.63,628.26 L518.30,629.12 L518.97,629.99 L519.63,630.86 L520.30,631.73 L520.97,632.60 L521.63,633.48 L522.30,634.35 L522.97,635.22 L523.63,636.09 L524.30,636.97 L524.97,637.84 L525.63,638.70 L526.30,639.57 L526.97,640.43 L527.63,641.30 L528.30,642.16 L528.97,643.02 L529.63,643.87 L530.30,644.73 L530.97,645.58 L531.63,646.43 L532.30,647.29 L532.97,648.14 L533.63,648.99 L534.30,649.84 L534.97,650.69 L535.63,651.53 L536.30,652.38 L536.97,653.23 L537.63,654.08 L538.30,654.93 L538.97,655.78 L539.63,656.64 L540.30,657.49 L540.97,658.34 L541.63,659.19 L542.30,660.05 L542.97,660.91 L543.63,661.76 L544.30,662.62 L544.97,663.48 L545.63,664.34 L546.30,665.20 L546.97,666.06 L547.63,666.93 L548.30,667.79 L548.97,668.66 L549.63,669.53 L550.30,670.40 L550.97,671.27 L551.63,672.14 L552.30,673.01 L552.97,673.88 L553.63,674.75 L554.30,675.63 L554.97,676.51 L555.63,677.38 L556.30,678.26 L556.97,679.14 L557.63,680.03 L558.30,680.91 L558.97,681.80 L559.63,682.68 L560.30,683.57 L560.97,684.46 L561.63,685.35 L562.30,686.24 L562.97,687.12 L563.63,688.01 L564.30,688.90 L564.97,689.78 L565.63,690.66 L566.30,691.54 L566.97,692.41 L567.63,693.28 L568.30,694.14 L568.97,695.00 L569.63,695.85 L570.30,696.70 L570.97,697.55 L571.63,698.38 L572.30,699.22 L572.97,700.04 L573.63,700.86 L574.30,701.68 L574.97,702.49 L575.63,703.29 L576.30,704.09 L576.97,704.87 L577.63,705.66 L578.30,706.43 L578.96,707.20 L579.63,707.96 L580.30,708.72 L581.30,709.83 L582.30,710.93 L583.30,712.01 L584.30,713.06 L585.30,714.09 L586.30,715.11 L587.30,716.09 L588.30,717.05 L589.30,717.99 L590.30,718.90 L591.30,719.78 L592.30,720.65 L593.30,721.49 L594.30,722.31 L595.30,723.10 L596.30,723.88 L597.30,724.63 L598.30,725.36 L599.30,726.07 L600.30,726.76 L601.30,727.43 L602.30,728.08 L603.30,728.72 L604.30,729.34 L605.30,729.93 L606.30,730.52 L607.30,731.08 L608.30,731.63 L609.30,732.17 L610.30,732.69 L611.30,733.18 L612.30,733.67 L613.30,734.13 L614.30,734.58 L615.30,735.01 L616.30,735.43 L617.30,735.82 L618.30,736.20 L619.30,736.56 L620.30,736.90 L621.30,737.22 L622.30,737.53 L623.30,737.81 L624.30,738.08 L625.30,738.33 L626.30,738.56 L627.30,738.78 L628.30,738.98 L629.30,739.16 L630.30,739.32 L631.30,739.47 L632.30,739.61 L633.30,739.73 L634.30,739.83 L635.30,739.93 L636.30,740.01 L637.30,740.08 L638.30,740.14 L639.30,740.19 L640.30,740.24 L641.30,740.28 L642.30,740.32 L643.30,740.35 L644.30,740.37 L645.30,740.40 L646.30,740.42 L647.30,740.44 L648.30,740.46 L649.30,740.48 L650.30,740.49 L651.30,740.50 L652.30,740.52 L653.30,740.53 L654.30,740.54 L655.30,740.55 L656.30,740.56 L657.30,740.57 L658.30,740.58 L659.30,740.58 L660.30,740.59 L661.36,740.59 L662.30,740.59 L662.67,740.59 L663.00,740.60" fill="none" stroke="#4b4b4b" stroke-width="3.2" stroke-linejoin="round" stroke-linecap="butt"/>
</svg>
</body></html>
